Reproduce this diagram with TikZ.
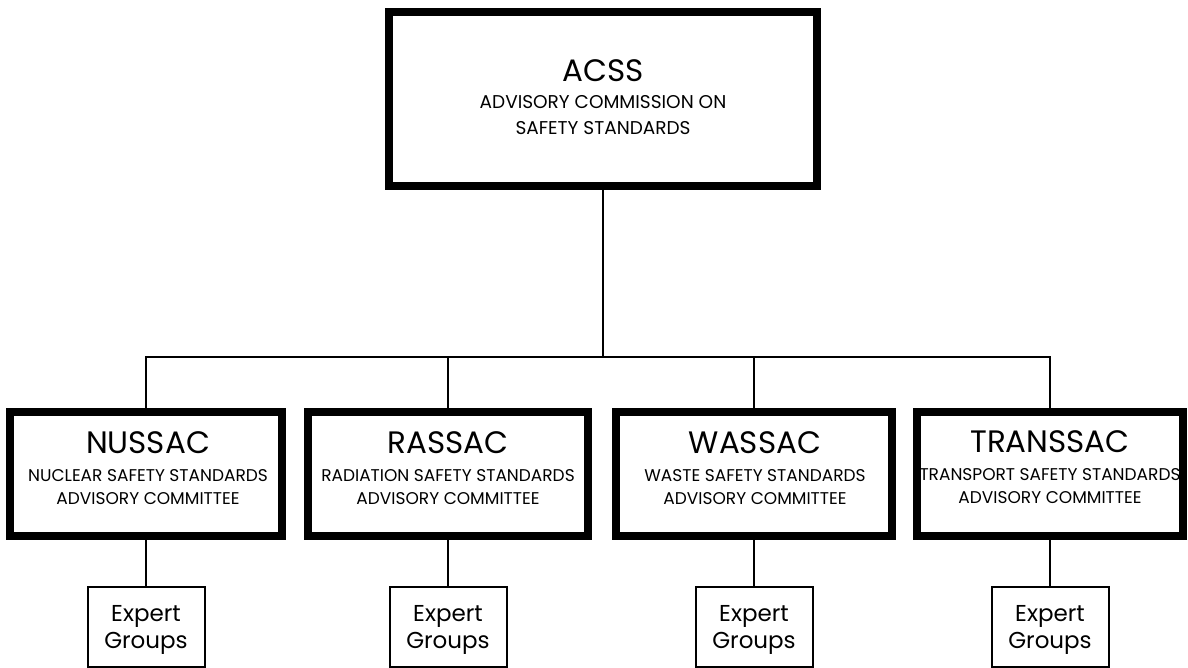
\documentclass[tikz,border=0pt]{standalone}
\usepackage{fontspec}
\setmainfont{Poppins}
\begin{document}
\begin{tikzpicture}[x=1pt,y=-1pt,
  topbox/.style={draw, line width=8pt, minimum width=428pt, minimum height=174pt, inner sep=0pt},
  combox/.style={draw, line width=8pt, minimum width=#1, minimum height=124pt, inner sep=0pt},
  expbox/.style={draw, line width=2pt, minimum width=117pt, minimum height=80pt, inner sep=0pt},
  conn/.style={line width=1.5pt},
  bigtxt/.style={anchor=base, inner sep=0pt, font=\fontsize{31}{31}\selectfont},
  subtxt/.style={anchor=base, inner sep=0pt, font=\fontsize{18.5}{18.5}\selectfont},
  comtxt/.style={anchor=base, inner sep=0pt, font=\fontsize{31}{31}\selectfont},
  comsub/.style={anchor=base, inner sep=0pt, font=\fontsize{17}{17}\selectfont},
  exptxt/.style={anchor=base, inner sep=0pt, font=\fontsize{23}{23}\selectfont}
]
\useasboundingbox (0,0) rectangle (1188,668);
\clip (0,0) rectangle (1188,668);
\fill[white] (0,0) rectangle (1188,668);

% boxes
\node[topbox] (acss) at (603,99) {};
\node[combox=272pt] (nus) at (146,474) {};
\node[combox=280pt] (ras) at (448,474) {};
\node[combox=276pt] (was) at (754,474) {};
\node[combox=266pt] (trans) at (1050,474) {};
\node[expbox] (nusx) at (146,627) {};
\node[expbox] (rasx) at (448,627) {};
\node[expbox] (wasx) at (754,627) {};
\node[expbox] (transx) at (1050,627) {};

% texts
\node[bigtxt] (acssT1) at (603,82) {ACSS};
\node[subtxt] (acssT2) at (603,109) {ADVISORY COMMISSION ON};
\node[subtxt] (acssT3) at (603,135) {SAFETY STANDARDS};

\node[comtxt] (nusT1) at (148,453) {NUSSAC};
\node[comsub] (nusT2) at (148,481) {NUCLEAR SAFETY STANDARDS};
\node[comsub] (nusT3) at (148,504) {ADVISORY COMMITTEE};

\node[comtxt] (rasT1) at (448,453) {RASSAC};
\node[comsub] (rasT2) at (448,481) {RADIATION SAFETY STANDARDS};
\node[comsub] (rasT3) at (448,504) {ADVISORY COMMITTEE};

\node[comtxt] (wasT1) at (755,453) {WASSAC};
\node[comsub] (wasT2) at (755,481) {WASTE SAFETY STANDARDS};
\node[comsub] (wasT3) at (755,504) {ADVISORY COMMITTEE};

\node[comtxt] (transT1) at (1050,452) {TRANSSAC};
\node[comsub] (transT2) at (1050,480) {TRANSPORT SAFETY STANDARDS};
\node[comsub] (transT3) at (1050,503) {ADVISORY COMMITTEE};

\foreach \n in {nusx,rasx,wasx,transx}{
  \node[exptxt] (\n E) at ([yshift=6pt]\n.center) {Expert};
  \node[exptxt] (\n G) at ([yshift=-21pt]\n.center) {Groups};
}

% connectors
\coordinate (bar) at (0,357);
\draw[conn] (acss.south) -- (acss.south |- bar);
\draw[conn] (nus.north) -- (nus.north |- bar) -- (trans.north |- bar) -- (trans.north);
\draw[conn] (ras.north) -- (ras.north |- bar);
\draw[conn] (was.north) -- (was.north |- bar);
\draw[conn] (nus.south) -- (nusx.north);
\draw[conn] (ras.south) -- (rasx.north);
\draw[conn] (was.south) -- (wasx.north);
\draw[conn] (trans.south) -- (transx.north);
\end{tikzpicture}
\end{document}
